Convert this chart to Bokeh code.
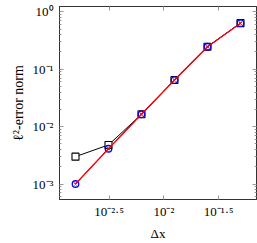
import numpy as np
from bokeh.plotting import figure
from bokeh.models import FixedTicker, LogAxis, CustomJSTickFormatter, Range1d
from bokeh.embed import file_html
from bokeh.resources import INLINE

# data
dx = [1/640, 1/320, 1/160, 1/80, 1/40, 1/20]
err_black = [0.0030, 0.0048, 0.0164, 0.0649, 0.247, 0.636]
err_blue = [0.00100, 0.00412, 0.0164, 0.0649, 0.247, 0.636]
err_red = [0.00100, 0.00412, 0.0164, 0.0649, 0.247, 0.636]

x_ticks = [10**-2.5, 10**-2, 10**-1.5]
x_tick_labels = ["10⁻²·⁵", "10⁻²", "10⁻¹·⁵"]
y_ticks = [1e-3, 1e-2, 1e-1, 1.0]
y_tick_labels = ["10⁻³", "10⁻²", "10⁻¹", "10⁰"]
y_minor = [k * 10.0**e for e in range(-4, 1) for k in range(2, 10)]

FONT = "Liberation Serif"

p = figure(width=257, height=243, x_axis_type="log", y_axis_type="log",
           x_range=Range1d(10**-2.952, 10**-1.155), y_range=Range1d(10**-3.27, 10**0.094),
           output_backend="svg", toolbar_location=None,
           min_border_left=59, min_border_right=1, min_border_top=6, min_border_bottom=40)
p.grid.visible = False
p.outline_line_color = "#333333"
p.outline_line_width = 1
p.background_fill_color = "white"
p.border_fill_color = "white"

code = """
let best = 0, bd = 1e9;
for (let i = 0; i < tvals.length; i++) {
  const d = Math.abs(Math.log10(tick) - Math.log10(tvals[i]));
  if (d < bd) { bd = d; best = i; }
}
return tlabels[best];
"""
xfmt = CustomJSTickFormatter(args=dict(tvals=x_ticks, tlabels=x_tick_labels), code=code)
yfmt = CustomJSTickFormatter(args=dict(tvals=y_ticks, tlabels=y_tick_labels), code=code)
blank = CustomJSTickFormatter(code="return '';")

xticker = FixedTicker(ticks=x_ticks, minor_ticks=[])
yticker = FixedTicker(ticks=y_ticks, minor_ticks=y_minor)

def style(ax):
    ax.axis_line_color = "#333333"
    ax.major_tick_in = 4
    ax.major_tick_out = 0
    ax.minor_tick_in = 2
    ax.minor_tick_out = 0
    ax.major_tick_line_color = "#999999"
    ax.minor_tick_line_color = "#999999"
    ax.major_label_text_font = FONT
    ax.major_label_text_font_size = "13px"
    ax.major_label_text_color = "black"
    ax.axis_label_text_font = FONT
    ax.axis_label_text_font_size = "14px"
    ax.axis_label_text_font_style = "normal"
    ax.axis_label_text_color = "black"

xa = p.xaxis[0]
xa.ticker = xticker
xa.formatter = xfmt
xa.axis_label = "Δx"
xa.major_label_standoff = 4
xa.axis_label_standoff = 4
style(xa)
xa.axis_label_text_font_size = "13px"

ya = p.yaxis[0]
ya.ticker = yticker
ya.formatter = yfmt
ya.axis_label = "ℓ²-error norm"
ya.major_label_standoff = 6
ya.axis_label_standoff = 4
style(ya)

top = LogAxis(ticker=xticker, formatter=blank)
style(top)
right = LogAxis(ticker=yticker, formatter=blank)
style(right)
for ax in (top, right):
    ax.major_label_standoff = 0
    ax.axis_label_standoff = 0
    ax.major_label_text_font_size = "0px"
p.add_layout(top, "above")
p.add_layout(right, "right")

p.line(dx, err_black, line_color="black", line_width=1)
p.scatter(dx, err_black, marker="square", size=7, line_color="black", fill_color="white", line_width=1.1)
p.line(dx, err_blue, line_color="blue", line_width=1)
p.scatter(dx, err_blue, marker="circle", size=6.5, line_color="blue", fill_color=None, line_width=1.3)
p.line(dx, err_red, line_color="red", line_width=1.3)
p.scatter(dx, err_red, marker="x", size=4, line_color="red", line_width=1.1)

open("out.html", "w").write(file_html(p, INLINE))
